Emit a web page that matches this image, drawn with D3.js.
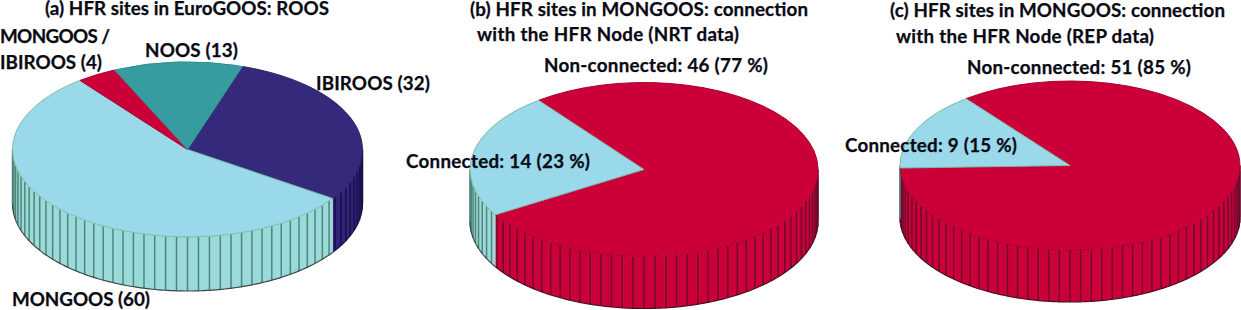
<!DOCTYPE html>
<html><head><meta charset="utf-8">
<script src="https://cdn.jsdelivr.net/npm/d3@7/dist/d3.min.js"></script>
<style>html,body{margin:0;background:#fff}svg{display:block}text{font-family:Lato,"Open Sans",sans-serif;font-weight:700;fill:#0a0a14;font-size:18.8px;stroke:#0a0a14;stroke-width:.25px}</style>
</head><body><svg id="c" width="1241" height="310"></svg>
<script>
const catsA=["IBIROOS","MONGOOS","MONGOOS / IBIROOS","NOOS"];
const valsA=[32,60,4,13];
const colsA=["#35297c","#99d9ea","#cc0039","#369c9f"];
const catsB=["Non-connected","Connected"];
const valsB=[46,14];
const valsC=[51,9];
const colsBC=["#cc0039","#99d9ea"];

const sideCol={"#35297c":["#30257a","#17104a","#1a1440"],"#99d9ea":["#9bdadb","#4f8578","#3c4a48"],"#cc0039":["#cc0039","#6e0a30","#4a1020"],"#369c9f":["#2b8285","#17565a","#17565a"]};
const topStroke={"#35297c":"#2a2166","#99d9ea":"#7dbba8","#cc0039":"#a8002f","#369c9f":"#2f8f8f"};

const pies=[
 {vals:valsA,cols:colsA,cx:187.5,cy:149.5,rx:175,ry:87.5,d:54,start:18.3},
 {vals:valsB,cols:colsBC,cx:644,cy:169.5,rx:174,ry:87,d:52,start:322.7},
 {vals:valsC,cols:colsBC,cx:1070,cy:165.5,rx:170,ry:84.5,d:52,start:322.3}
];
// text, x, baseline y, rendered width
const textRows=[
 ["(a) HFR sites in EuroGOOS: ROOS",45,15,284],
 ["(b) HFR sites in MONGOOS: connection",470,16,338],
 ["with the HFR Node (NRT data)",477,41,262],
 ["(c) HFR sites in MONGOOS: connection",890,17,335],
 ["with the HFR Node (REP data)",896,43,258],
 ["MONGOOS /",0,43,110],["IBIROOS (4)",0,69,102],["NOOS (13)",145,57,93],["IBIROOS (32)",316,90,114],["MONGOOS (60)",12,306,138],
 ["Non-connected: 46 (77 %)",544,72,224],["Connected: 14 (23 %)",406,168,184],
 ["Non-connected: 51 (85 %)",967,74,224],["Connected: 9 (15 %)",845,152,172]
];

const svg=d3.select("#c");
const rad=Math.PI/180;
pies.forEach(p=>{
  const g=svg.append("g");
  const arcs=d3.pie().sort(null).startAngle(p.start*rad).endAngle((p.start+360)*rad)(p.vals);
  const px=a=>p.cx+p.rx*Math.sin(a), py=a=>p.cy-p.ry*Math.cos(a);
  const line=d3.line();
  arcs.forEach((s,i)=>{
    const c=p.cols[i];
    [[s.startAngle,s.endAngle],[s.startAngle-2*Math.PI,s.endAngle-2*Math.PI],[s.startAngle+2*Math.PI,s.endAngle+2*Math.PI]].forEach(([a0,a1])=>{
      const lo=Math.max(a0,90*rad),hi=Math.min(a1,270*rad);
      if(hi<=lo)return;
      const n=Math.ceil((hi-lo)/rad);
      const ts=d3.range(n+1).map(k=>lo+(hi-lo)*k/n);
      const up=ts.map(t=>[px(t),py(t)]);
      const dn=ts.slice().reverse().map(t=>[px(t),py(t)+p.d]);
      g.append("path").attr("d",line(up.concat(dn))+"Z").attr("fill",sideCol[c][0]);
      d3.range(Math.ceil(lo/(3.6*rad)),Math.floor(hi/(3.6*rad))+1).forEach(k=>{
        const t=k*3.6*rad;
        g.append("line").attr("x1",px(t)).attr("x2",px(t)).attr("y1",py(t)).attr("y2",py(t)+p.d)
         .attr("stroke",sideCol[c][1]).attr("stroke-width",1.5);
      });
      g.append("path").attr("d",line(ts.map(t=>[px(t),py(t)+p.d]))).attr("fill","none")
       .attr("stroke",sideCol[c][2]).attr("stroke-width",1.2);
    });
  });
  const arc=d3.arc().innerRadius(0).outerRadius(1);
  arcs.forEach((s,i)=>{
    g.append("path").attr("d",arc(s))
     .attr("transform",`translate(${p.cx},${p.cy}) scale(${p.rx},${p.ry})`)
     .attr("fill",p.cols[i]).attr("stroke",topStroke[p.cols[i]])
     .attr("stroke-width",1).attr("vector-effect","non-scaling-stroke");
  });
});
svg.append("g").selectAll("text").data(textRows).join("text")
  .attr("x",d=>d[1]).attr("y",d=>d[2]).attr("textLength",d=>d[3]).attr("lengthAdjust","spacing").text(d=>d[0]);
</script></body></html>
